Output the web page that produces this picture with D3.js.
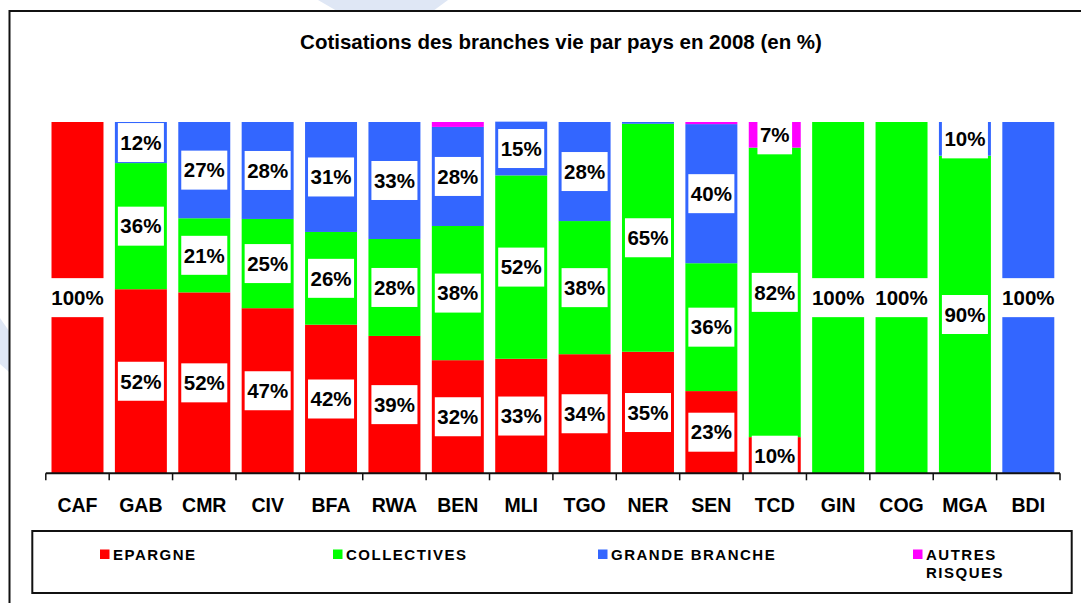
<!DOCTYPE html>
<html>
<head>
<meta charset="utf-8">
<title>Cotisations des branches vie</title>
<script src="https://d3js.org/d3.v7.min.js"></script>
<style>
  body { margin: 0; background: #fff; }
  svg { display: block; }
  text { font-family: "Liberation Sans", Arial, sans-serif; font-weight: bold; fill: #000; }
</style>
</head>
<body>
<div id="chart"></div>

<script>
// data (%)
var categories = ["CAF", "GAB", "CMR", "CIV", "BFA", "RWA", "BEN", "MLI",
                  "TGO", "NER", "SEN", "TCD", "GIN", "COG", "MGA", "BDI"];
var epargne       = [100, 52.4, 51.5, 47.0, 42.3, 39.1, 32.2, 32.6, 33.9, 34.6, 23.4, 10.3, 0, 0, 0, 0];
var collectives   = [0, 35.9, 21.1, 25.4, 26.4, 27.6, 38.2, 52.2, 37.9, 64.9, 36.4, 82.4, 100, 100, 90.4, 0];
var grandeBranche = [0, 11.7, 27.4, 27.6, 31.3, 33.3, 28.2, 15.3, 28.2, 0.5, 39.6, 0, 0, 0, 9.6, 100];
var autresRisques = [0, 0, 0, 0, 0, 0, 1.4, 0, 0, 0, 0.6, 7.3, 0, 0, 0, 0];
var seriesNames = ["EPARGNE", "COLLECTIVES", "GRANDE BRANCHE", "AUTRES RISQUES"];
var title = "Cotisations des branches vie par pays en 2008 (en %)";

var colors = ["#ff0000", "#00ff00", "#3366ff", "#ff00ff"];
var seriesData = [epargne, collectives, grandeBranche, autresRisques];

var width = 1081, height = 603;
var plot = {left: 45.8, right: 1060, top: 122, bottom: 473.3};

var svg = d3.select("#chart").append("svg")
    .attr("width", width)
    .attr("height", height);

// faint watermark bits outside the frame
svg.append("path").attr("d", "M318,0 L448,0 L433,11 L337,11 Z").attr("fill", "#dfe7f5");
svg.append("path").attr("d", "M0,318 L9,331 L9,372 L0,364 Z").attr("fill", "#dfe7f5");

// frame
svg.append("rect")
    .attr("x", 9.5).attr("y", 11)
    .attr("width", 1100).attr("height", 620)
    .attr("fill", "#fff")
    .attr("stroke", "#111")
    .attr("stroke-width", 2);

svg.append("text")
    .attr("x", 561).attr("y", 49)
    .attr("text-anchor", "middle")
    .style("font-size", "20.5px")
    .text(title);

// build table for stacking
var rows = categories.map(function(c, i) {
    var r = {cat: c};
    seriesNames.forEach(function(s, k) { r[s] = seriesData[k][i]; });
    return r;
});
var stacked = d3.stack().keys(seriesNames)(rows);

var x = d3.scaleBand()
    .domain(categories)
    .range([plot.left, plot.right])
    .paddingInner(0.18)
    .paddingOuter(0.09);

var y = d3.scaleLinear()
    .domain([0, 100])
    .range([plot.bottom, plot.top]);

// bars
var layer = svg.selectAll("g.layer")
    .data(stacked)
    .enter().append("g")
    .attr("class", "layer")
    .attr("fill", function(d, i) { return colors[i]; });

layer.selectAll("rect")
    .data(function(d) { return d; })
    .enter().append("rect")
    .attr("x", function(d) { return x(d.data.cat); })
    .attr("width", x.bandwidth())
    .attr("y", function(d) { return y(d[1]); })
    .attr("height", function(d) { return y(d[0]) - y(d[1]); });

// value labels in white boxes
var fmt = d3.format(".0f");
var labelData = [];
stacked.forEach(function(s) {
    s.forEach(function(d) {
        var v = d[1] - d[0];
        if (v >= 5) {
            labelData.push({cat: d.data.cat, cy: (y(d[0]) + y(d[1])) / 2, txt: fmt(v) + "%"});
        }
    });
});

var lab = svg.selectAll("g.lab")
    .data(labelData)
    .enter().append("g")
    .attr("class", "lab");

lab.append("rect").attr("fill", "#fff");
lab.append("text")
    .attr("x", function(d) { return x(d.cat) + x.bandwidth() / 2; })
    .attr("y", function(d) { return d.cy + 7.3; })
    .attr("text-anchor", "middle")
    .style("font-size", "20.5px")
    .text(function(d) { return d.txt; });

lab.each(function(d) {
    var g = d3.select(this);
    var w = g.select("text").node().getComputedTextLength() + 5;
    var top = Math.max(plot.top, d.cy - 19.5);
    g.select("rect")
        .attr("x", x(d.cat) + x.bandwidth() / 2 - w / 2)
        .attr("y", top)
        .attr("width", w)
        .attr("height", d.cy + 19.5 - top);
});

// category axis, ticks between the bars
var ax = svg.append("g");
ax.append("line")
    .attr("x1", plot.left).attr("x2", plot.right)
    .attr("y1", plot.bottom).attr("y2", plot.bottom)
    .attr("stroke", "#111").attr("stroke-width", 2);

var bounds = d3.range(categories.length + 1);
ax.selectAll("line.tick")
    .data(bounds)
    .enter().append("line")
    .attr("class", "tick")
    .attr("x1", function(i) { return plot.left + i * x.step(); })
    .attr("x2", function(i) { return plot.left + i * x.step(); })
    .attr("y1", plot.bottom).attr("y2", plot.bottom + 7)
    .attr("stroke", "#111").attr("stroke-width", 1.5);

ax.selectAll("text")
    .data(categories)
    .enter().append("text")
    .attr("x", function(d) { return x(d) + x.bandwidth() / 2; })
    .attr("y", 512)
    .attr("text-anchor", "middle")
    .style("font-size", "19.5px")
    .text(function(d) { return d; });

// legend
var legBox = {x: 32.3, y: 531, w: 1039.4, h: 62};
var legX = [100, 333, 598, 913];
svg.append("rect")
    .attr("x", legBox.x).attr("y", legBox.y)
    .attr("width", legBox.w).attr("height", legBox.h)
    .attr("fill", "none")
    .attr("stroke", "#111").attr("stroke-width", 2);

var leg = svg.selectAll("g.leg")
    .data(seriesNames)
    .enter().append("g")
    .attr("class", "leg")
    .attr("transform", function(d, i) { return "translate(" + legX[i] + ",0)"; });

leg.append("rect")
    .attr("x", 0).attr("y", 549.5)
    .attr("width", 9.5).attr("height", 9.5)
    .attr("fill", function(d, i) { return colors[i]; });

leg.each(function(d, i) {
    var t = d3.select(this).append("text")
        .attr("x", 13).attr("y", 560)
        .style("font-size", "15px")
        .style("letter-spacing", "1.5px");
    var maxW = legBox.x + legBox.w - legX[i] - 13 - 20;
    var words = d.split(" "), line = [];
    var ts = t.append("tspan").attr("x", 13).attr("dy", 0);
    words.forEach(function(w) {
        line.push(w);
        ts.text(line.join(" "));
        if (ts.node().getComputedTextLength() > maxW && line.length > 1) {
            line.pop();
            ts.text(line.join(" "));
            line = [w];
            ts = t.append("tspan").attr("x", 13).attr("dy", 18.3).text(w);
        }
    });
});
</script>
</body>
</html>
